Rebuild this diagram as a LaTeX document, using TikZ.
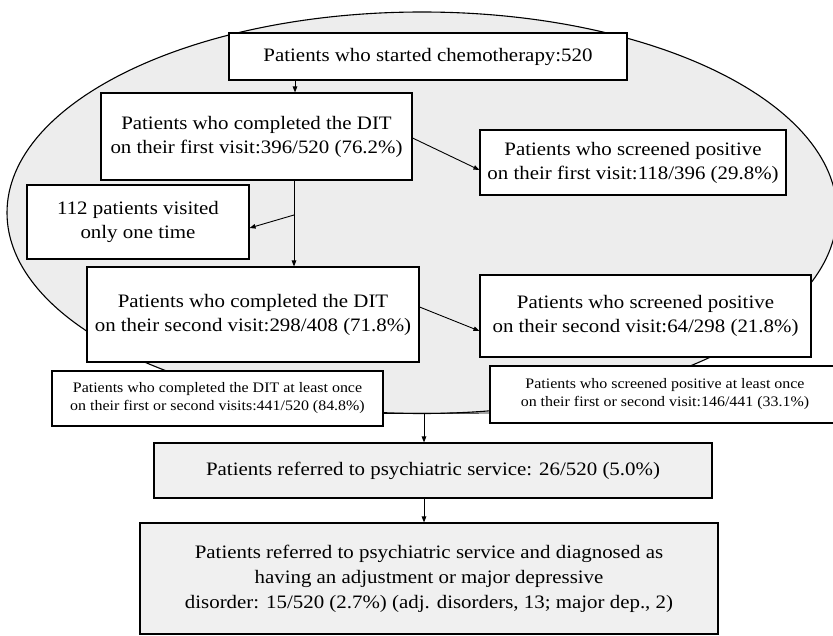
\documentclass[tikz,border=0pt]{standalone}
\usepackage{fontspec}
\setmainfont[FakeStretch=1.1]{Liberation Serif}
\usetikzlibrary{arrows.meta}
\tikzset{
  box/.style={draw, line width=1.1pt, fill=white, inner sep=0pt, align=center,
    font=\fontsize{19}{24}\selectfont},
  smallbox/.style={box, font=\fontsize{14.5}{18}\selectfont},
  grainbox/.style={box, fill=black!6},
  arr/.style={line width=0.9pt, -{Triangle[length=6pt,width=4.5pt]}},
  conn/.style={line width=0.9pt},
}
\begin{document}
\begin{tikzpicture}[x=1pt,y=-1pt]
\useasboundingbox (0,0) rectangle (833,636);
\fill[white] (0,0) rectangle (833,636);
% shaded ellipse behind the first two visits
\draw[line width=1.1pt, fill=black!7] (422,212.75) ellipse [x radius=415, y radius=200.75];

\node[box, minimum width=398pt, minimum height=47pt] (top) at (428,56.5)
  {Patients who started chemotherapy:520};
\node[box, minimum width=311pt, minimum height=87pt] (dit1) at (256.5,136.5)
  {Patients who completed the DIT\\on their first visit:396/520 (76.2\%)};
\node[box, minimum width=306pt, minimum height=65pt] (pos1) at (633,162.5)
  {Patients who screened positive\\on their first visit:118/396 (29.8\%)};
\node[box, minimum width=222pt, minimum height=74pt] (once) at (138,222)
  {112 patients visited\\only one time};
\node[box, minimum width=332pt, minimum height=95pt] (dit2) at (253,314.5)
  {Patients who completed the DIT\\on their second visit:298/408 (71.8\%)};
\node[box, minimum width=331pt, minimum height=82pt] (pos2) at (645.5,316)
  {Patients who screened positive\\on their second visit:64/298 (21.8\%)};
\node[smallbox, minimum width=331pt, minimum height=55pt] (ditany) at (217.5,398.5)
  {Patients who completed the DIT at least once\\on their first or second visits:441/520 (84.8\%)};
\node[smallbox, minimum width=350pt, minimum height=57pt] (posany) at (665,394.5)
  {Patients who screened positive at least once\\on their first or second visit:146/441 (33.1\%)};
\node[grainbox, minimum width=558pt, minimum height=55pt] (ref) at (433,470.5)
  {Patients referred to psychiatric service: 26/520 (5.0\%)};
\node[grainbox, minimum width=578pt, minimum height=111pt, font=\fontsize{19}{25}\selectfont] (diag) at (429,578.5)
  {Patients referred to psychiatric service and diagnosed as\\having an adjustment or major depressive\\disorder: 15/520 (2.7\%) (adj. disorders, 13; major dep., 2)};

% connectors
\coordinate (c1) at (295,0);
\coordinate (c2) at (294,0);
\coordinate (b) at (294,215);
\coordinate (m) at (424,413.5);
\draw[arr] (top.south -| c1) -- (dit1.north -| c1);
\draw[arr] ([yshift=-1.5pt]dit1.east) -- ([yshift=-7.5pt]pos1.west);
\draw[arr] (dit1.south -| c2) -- (dit2.north -| c2);
\draw[arr] (b) -- ([yshift=-6pt]once.east);
\draw[arr] ([yshift=7.5pt]dit2.east) -- ([yshift=-15pt]pos2.west);
\draw[conn] ([yshift=-15pt]ditany.east) -- ([yshift=-18.5pt]posany.west);
\draw[arr] (m) -- (ref.north -| m);
\draw[arr] (ref.south -| m) -- (diag.north -| m);
\end{tikzpicture}
\end{document}
